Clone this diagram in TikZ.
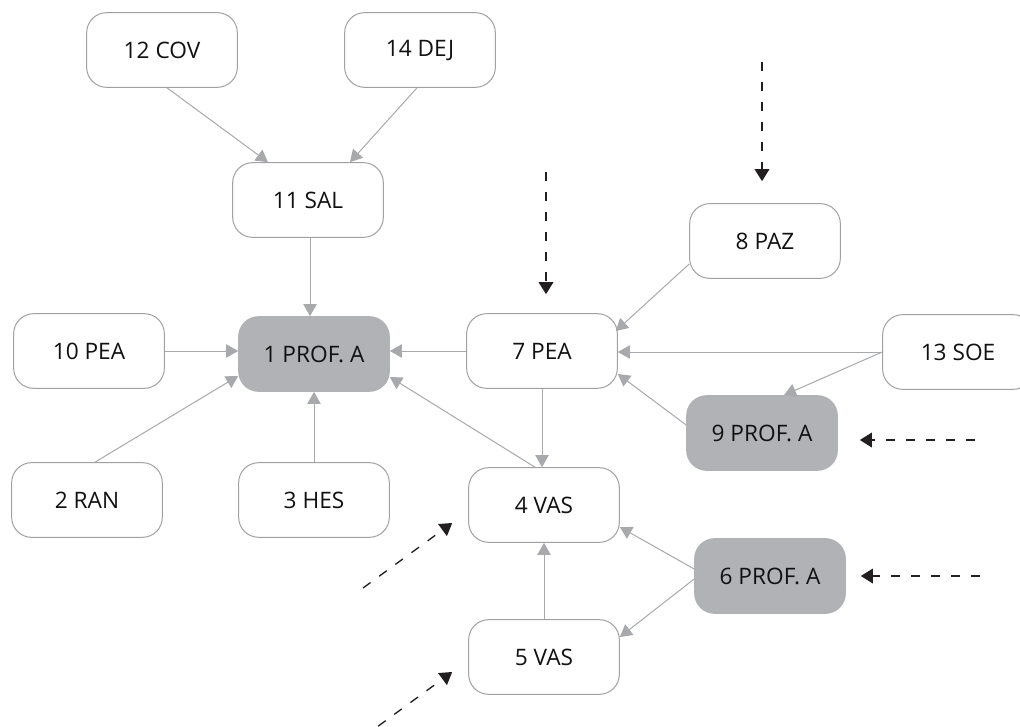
\documentclass[tikz,border=0pt]{standalone}
\usepackage{fontspec}
\setmainfont{Open Sans}
\usepackage{xcolor}
\usepackage{tikz}
\usetikzlibrary{calc,arrows.meta}
\definecolor{linec}{HTML}{A7A9AC}
\definecolor{edgec}{HTML}{A0A0A2}
\definecolor{profc}{HTML}{B1B2B5}
\definecolor{textc}{HTML}{111111}
\definecolor{dashc}{HTML}{231F20}
\tikzset{
  ar/.style={-{Triangle[length=9pt,width=10pt]},line width=0.75pt,linec},
  dar/.style={-{Triangle[length=9pt,width=11pt]},line width=1pt,dashc,dash pattern=on 7pt off 8pt},
  box/.style={draw=edgec,line width=0.75pt,rounded corners=15pt,fill=white,minimum width=113pt,minimum height=56pt,inner sep=2pt,text=textc,font=\fontsize{17}{20}\selectfont},
  pbox/.style={box,fill=profc,draw=profc}
}
\begin{document}
\begin{tikzpicture}[x=0.75pt,y=-0.75pt]
\path[use as bounding box,fill=white] (0,0) rectangle (1020,727);
\node[box] (cov) at (162,50) {12 COV};
\node[box] (dej) at (420,50) {14 DEJ};
\node[box] (sal) at (308,200) {11 SAL};
\node[box] (peaa) at (89,351) {10 PEA};
\node[pbox] (profa) at (314,354) {1 PROF. A};
\node[box] (peab) at (542,351) {7 PEA};
\node[box] (paz) at (765,241) {8 PAZ};
\node[box] (soe) at (958,352) {13 SOE};
\node[pbox] (profb) at (762,433) {9 PROF. A};
\node[box] (ran) at (87,500) {2 RAN};
\node[box] (hes) at (314,500) {3 HES};
\node[box] (vasa) at (544,505) {4 VAS};
\node[pbox] (profc) at (770,576) {6 PROF. A};
\node[box] (vasb) at (544,657) {5 VAS};
\draw[ar] ($(cov.south)+(5,0)$) -- ($(sal.north)+(-40,0)$);
\draw[ar] ($(dej.south)+(-3,0)$) -- ($(sal.north)+(42,0)$);
\draw[ar] ($(sal.south)+(2,0)$) -- ($(profa.north)+(-4,0)$);
\draw[ar] (peaa.east) -- (peaa.east -| profa.west);
\draw[ar] ($(ran.north)+(8,0)$) -- ($(profa.west)+(0,22)$);
\draw[ar] (hes.north) -- (profa.south);
\draw[ar] (peab.west) -- (peab.west -| profa.east);
\draw[ar] ($(vasa.north)+(-9,0)$) -- ($(profa.east)+(0,23)$);
\draw[ar] (peab.south) -- (peab.south |- vasa.north);
\draw[ar] ($(paz.west)+(0,23)$) -- ($(peab.east)+(-2,-20)$);
\draw[ar] (soe.west) -- (soe.west -| peab.east);
\draw[ar] (soe.west) -- ($(profb.north)+(22,0)$);
\draw[ar] ($(profb.west)+(0,-8)$) -- ($(peab.east)+(0,23)$);
\draw[ar] ($(profc.west)+(0,-7)$) -- ($(vasa.east)+(0,22)$);
\draw[ar] ($(profc.west)+(0,3)$) -- ($(vasb.east)+(0,-20)$);
\draw[ar] (vasb.north) -- (vasa.south);
\coordinate (inpaz) at (762,62);
\coordinate (inpea) at (546,172);
\coordinate (inprofb) at (975,440);
\coordinate (inprofc) at (980,576);
\coordinate (invasa) at (363,588);
\coordinate (invasb) at (362,738);
\draw[dar] (inpaz) -- ($(paz.north)+(-3,-22)$);
\draw[dar] (inpea) -- ($(peab.north)+(4,-19)$);
\draw[dar] (inprofb) -- ($(profb.east)+(22,7)$);
\draw[dar] (inprofc) -- ($(profc.east)+(15,0)$);
\draw[dar] (invasa) -- ($(vasa.west)+(-16,18)$);
\draw[dar] (invasb) -- ($(vasb.west)+(-16,15)$);
\end{tikzpicture}
\end{document}
